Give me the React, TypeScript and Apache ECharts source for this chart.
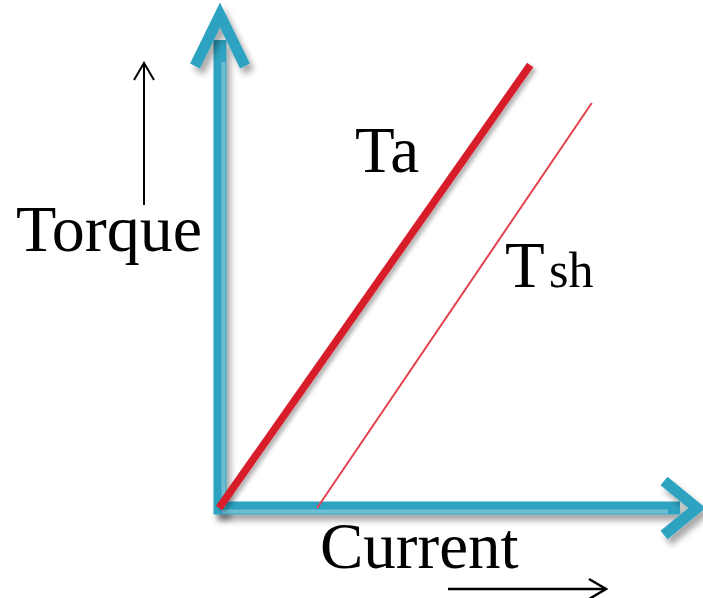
import React, { useEffect, useRef } from "react";
import * as echarts from "echarts";

// Data (value space: 0..100 on both axes)
const taX = [0, 64.7];
const taY = [0, 88.6];
const tshX = [20.4, 77.5];
const tshY = [0, 81];

const labels = {
  torque: "Torque",
  current: "Current",
  ta: "Ta",
  tshMain: "T",
  tshSub: "sh",
};

const BLUE = "#2fa3c1";
const BLUE_LIGHT = "#6fbdd3";
const SERIF = "'Liberation Serif', 'Times New Roman', serif";

export default function App() {
  const ref = useRef<HTMLDivElement | null>(null);

  useEffect(() => {
    if (!ref.current) return;
    const chart = echarts.init(ref.current, null, { renderer: "svg" });
    const shadow = {
      shadowColor: "rgba(0,0,0,0.35)",
      shadowBlur: 6,
      shadowOffsetX: 4,
      shadowOffsetY: 6,
    };
    const axisCommon = {
      type: "value" as const,
      min: 0,
      max: 100,
      axisTick: { show: false },
      axisLabel: { show: false },
      splitLine: { show: false },
      axisLine: { show: false },
    };
    const txt = (x: number, y: number, text: string, size: number) => ({
      type: "text",
      x,
      y,
      z: 10,
      style: {
        text,
        font: `${size}px ${SERIF}`,
        fill: "#000",
        verticalAlign: "middle",
        align: "left",
      },
    });
    chart.setOption({
      animation: false,
      backgroundColor: "#ffffff",
      grid: { left: 219, right: 3, top: 8, bottom: 90 },
      xAxis: { ...axisCommon },
      yAxis: { ...axisCommon },
      series: [
        {
          type: "line",
          name: "Ta",
          data: taX.map((x, i) => [x, taY[i]]),
          showSymbol: false,
          clip: false,
          z: 5,
          lineStyle: {
            color: "#d71f2c",
            width: 7.5,
            shadowColor: "rgba(0,0,0,0.3)",
            shadowBlur: 4,
            shadowOffsetX: 3,
            shadowOffsetY: 3,
          },
        },
        {
          type: "line",
          name: "Tsh",
          data: tshX.map((x, i) => [x, tshY[i]]),
          showSymbol: false,
          clip: false,
          z: 5,
          lineStyle: { color: "#e4404d", width: 2 },
        },
      ],
      graphic: [
        // axis shafts (rects so the shadow filter has an area)
        {
          type: "rect",
          z: 1,
          shape: { x: 213.5, y: 40, width: 13, height: 474 },
          style: { fill: BLUE, ...shadow },
        },
        {
          type: "rect",
          z: 1,
          shape: { x: 214, y: 501.5, width: 466, height: 13 },
          style: { fill: BLUE, ...shadow },
        },
        // lighter stripes on axis shafts
        {
          type: "rect",
          z: 2,
          shape: { x: 221.5, y: 62, width: 4, height: 446 },
          style: { fill: BLUE_LIGHT },
        },
        {
          type: "rect",
          z: 2,
          shape: { x: 222, y: 509.5, width: 446, height: 4 },
          style: { fill: BLUE_LIGHT },
        },
        // arrow heads of axes
        {
          type: "polyline",
          z: 3,
          shape: { points: [[195, 66], [220, 15], [245, 66]] },
          style: {
            stroke: BLUE,
            lineWidth: 11,
            fill: "none",
            lineJoin: "miter",
            ...shadow,
          },
        },
        {
          type: "polyline",
          z: 3,
          shape: { points: [[664, 481], [697, 508], [664, 535]] },
          style: {
            stroke: BLUE,
            lineWidth: 11,
            fill: "none",
            lineJoin: "miter",
            ...shadow,
          },
        },
        // black indicator arrows
        {
          type: "line",
          shape: { x1: 144, y1: 63, x2: 144, y2: 205 },
          style: { stroke: "#000", lineWidth: 2 },
        },
        {
          type: "polyline",
          shape: { points: [[134, 80], [144, 63], [154, 80]] },
          style: { stroke: "#000", lineWidth: 2, fill: "none" },
        },
        {
          type: "line",
          shape: { x1: 448, y1: 589, x2: 606, y2: 589 },
          style: { stroke: "#000", lineWidth: 2.5 },
        },
        {
          type: "polyline",
          shape: { points: [[589, 579], [606, 589], [589, 599]] },
          style: { stroke: "#000", lineWidth: 2.5, fill: "none" },
        },
        // texts
        txt(16, 228, labels.torque, 66),
        txt(355, 150, labels.ta, 65),
        txt(505, 265, labels.tshMain, 65),
        txt(549, 270, labels.tshSub, 50),
        txt(320, 546, labels.current, 65),
      ],
    });
    return () => chart.dispose();
  }, []);

  return (
    <div
      ref={ref}
      style={{ position: "fixed", left: 0, top: 0, width: 703, height: 598 }}
    />
  );
}
